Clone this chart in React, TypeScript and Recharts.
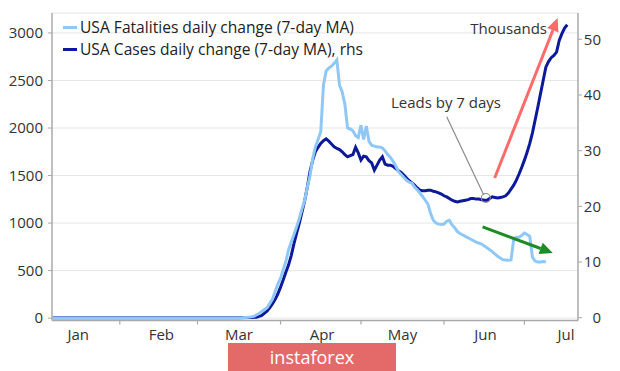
import { LineChart, Line, XAxis, YAxis, CartesianGrid, Legend, ReferenceLine, ReferenceDot } from 'recharts';

const FONT = '"Open Sans", sans-serif';
const AXIS = '#a8a8a8';
const TEXT = '#333';
const LIGHT = '#8fc8f6';
const DARK = '#0c1a9a';

// day index: 0 = Jan 1, 2020
const monthStarts = [31, 60, 91, 121, 152, 182];
const monthMids = [15.5, 46.5, 75.5, 106.5, 136.5, 167.5, 197.5];
const monthLabels = ['Jan', 'Feb', 'Mar', 'Apr', 'May', 'Jun', 'Jul'];
const leftTicks = [0, 500, 1000, 1500, 2000, 2500, 3000];
const rightTicks = [0, 10, 20, 30, 40, 50];

const seriesNames = ['USA Fatalities daily change (7-day MA)', 'USA Cases daily change (7-day MA), rhs'];

const fatalityDays = [
  6, 20, 40, 60, 72, 76, 79, 81, 83, 85,
  86, 88, 90, 91, 92, 93, 94, 95, 96, 97,
  98, 99, 100, 101, 102, 103, 104, 105, 106, 107,
  108, 109, 110, 111, 112, 113, 114, 115, 116, 117,
  118, 119, 120, 121, 122, 123, 124, 125, 126, 127,
  128, 129, 130, 131, 132, 133, 134, 135, 136, 137,
  138, 139, 140, 141, 142, 143, 144, 145, 146, 147,
  148, 149, 150, 151, 152, 153, 154, 155, 156, 157,
  158, 159, 160, 162, 164, 166, 168, 170, 172, 174,
  176, 177, 178, 179, 180, 181, 182, 183, 184, 185,
  186, 187, 188, 189, 190,
];
const fatalities = [
  0, 0, 0, 0, 0, 2, 8, 18, 48, 90,
  110, 200, 360, 420, 510, 600, 720, 800, 880, 960,
  1050, 1150, 1240, 1380, 1500, 1680, 1800, 1880, 1960, 2450,
  2600, 2630, 2650, 2680, 2716, 2450, 2380, 2250, 2000, 1990,
  1970, 1920, 1900, 2030, 1880, 2020, 1860, 1820, 1810, 1800,
  1800, 1790, 1760, 1720, 1690, 1650, 1600, 1540, 1510, 1480,
  1450, 1430, 1420, 1380, 1350, 1316, 1280, 1240, 1200, 1100,
  1030, 1000, 990, 985, 990, 1020, 1030, 980, 950, 910,
  890, 875, 860, 830, 800, 780, 740, 700, 650, 615,
  610, 612, 830, 850, 850, 870, 895, 880, 860, 640,
  600, 590, 590, 595, 590,
];

const caseDays = [
  6, 20, 40, 60, 75, 80, 82, 84, 86, 87,
  88, 89, 90, 91, 92, 93, 94, 95, 96, 97,
  98, 99, 100, 101, 102, 103, 104, 105, 106, 107,
  108, 109, 110, 111, 112, 113, 114, 115, 116, 117,
  118, 119, 120, 121, 122, 123, 124, 125, 126, 127,
  128, 129, 130, 131, 132, 133, 134, 135, 136, 137,
  138, 139, 140, 141, 142, 143, 144, 145, 146, 147,
  148, 149, 150, 151, 152, 153, 154, 155, 156, 157,
  158, 159, 160, 161, 162, 163, 164, 165, 166, 167,
  168, 169, 170, 171, 172, 173, 174, 175, 176, 177,
  178, 179, 180, 181, 182, 183, 184, 185, 186, 187,
  188, 189, 190, 191, 192, 193, 194, 195, 196, 197,
  198,
];
// thousands
const cases = [
  0, 0, 0, 0, 0, 0.05, 0.1, 0.4, 1.2, 1.8,
  2.5, 3.3, 4.3, 5.5, 6.8, 8.2, 9.5, 11.2, 13.3, 15.2,
  17, 19, 21, 23.5, 26.3, 28.3, 29.8, 30.6, 31.3, 31.8,
  32.1, 31.7, 31.2, 30.7, 30.4, 30.2, 29.8, 29.3, 28.9, 29.1,
  29.3, 30.6, 29.6, 28.3, 29.0, 28.9, 28.2, 27.8, 26.5, 27.4,
  28.3, 28.9, 27.6, 27.4, 27.4, 27.2, 26.8, 26.4, 26.1, 25.6,
  25.1, 24.6, 24.2, 23.8, 23.3, 22.9, 22.8, 22.8, 22.9, 22.9,
  22.7, 22.6, 22.4, 22.2, 21.9, 21.7, 21.4, 21.1, 20.9, 20.8,
  20.9, 21.0, 21.1, 21.2, 21.4, 21.4, 21.3, 21.3, 21.2, 21.1,
  21.1, 21.4, 21.7, 21.6, 21.5, 21.6, 21.7, 21.9, 22.4, 23.1,
  23.8, 24.7, 25.8, 27, 28.3, 29.7, 31.3, 33.2, 35.5, 37.8,
  40.2, 42.6, 45, 46, 46.7, 47.1, 47.7, 49.8, 51, 52,
  52.6,
];

const fatalityData = fatalityDays.map((day, i) => ({ day, v: fatalities[i] }));
const caseData = caseDays.map((day, i) => ({ day, v: cases[i] }));

// annotations, in data units (day, value)
const redArrow = [{ x: 170.9, y: 25.1 }, { x: 194.4, y: 53.8 }];
const greenArrow = [{ x: 166.4, y: 960 }, { x: 192.6, y: 685 }];
const leadLine = [{ x: 153, y: 36.1 }, { x: 166.8, y: 22.1 }];
const leadDot = { x: 167.6, y: 21.5 };

const arrowShape = (color: string) => (props: any) => {
  const { x1, y1, x2, y2 } = props;
  const a = Math.atan2(y2 - y1, x2 - x1);
  const len = 13;
  const half = 6;
  const bx = x2 - len * Math.cos(a);
  const by = y2 - len * Math.sin(a);
  const p1 = `${bx + half * Math.sin(a)},${by - half * Math.cos(a)}`;
  const p2 = `${bx - half * Math.sin(a)},${by + half * Math.cos(a)}`;
  return (
    <g>
      <line x1={x1} y1={y1} x2={bx} y2={by} stroke={color} strokeWidth={3} />
      <polygon points={`${x2},${y2} ${p1} ${p2}`} fill={color} />
    </g>
  );
};

// month boundaries get a tick mark, mid-months get the label
const MonthTick = (props: any) => {
  const { x, y, payload } = props;
  const i = monthMids.indexOf(payload.value);
  if (i < 0) return <line x1={x} x2={x} y1={y} y2={y + 4} stroke={AXIS} strokeWidth={1.2} />;
  return (
    <text x={x} y={y + 9} dy="0.71em" textAnchor="middle" fontSize={15} fill={TEXT}>
      {monthLabels[i]}
    </text>
  );
};

const RightTick = (props: any) => {
  const { x, y, payload } = props;
  return (
    <text x={x + 17} y={y} dy="0.355em" textAnchor="end" fontSize={15} fill={TEXT}>
      {payload.value}
    </text>
  );
};

const renderLegend = () => (
  <div style={{ fontFamily: FONT }}>
    {seriesNames.map((name, i) => (
      <div key={name} style={{ display: 'flex', alignItems: 'center', height: 22 }}>
        <span style={{ display: 'inline-block', width: 14, height: 3, background: i === 0 ? LIGHT : DARK, marginRight: 3 }} />
        <span style={{ fontSize: 15.6, color: '#222', whiteSpace: 'nowrap' }}>{name}</span>
      </div>
    ))}
  </div>
);

const xTicks = [...monthMids, ...monthStarts].sort((a, b) => a - b);

export default function App() {
  return (
    <div style={{ position: 'absolute', left: 0, top: 0, width: 620, height: 371, background: '#fff', fontFamily: FONT, overflow: 'hidden' }}>
      <LineChart width={620} height={371} margin={{ top: 13, right: 0, bottom: 0, left: 0 }}>
        <CartesianGrid vertical={false} stroke="#e6e6e6" xAxisId="t" yAxisId="l" />
        <XAxis
          xAxisId="t"
          type="number"
          dataKey="day"
          domain={[5.7, 202]}
          allowDataOverflow
          ticks={xTicks}
          interval={0}
          tickSize={0}
          tickMargin={0}
          tickLine={false}
          height={50.5}
          axisLine={{ stroke: AXIS, strokeWidth: 1.5 }}
          tick={<MonthTick />}
        />
        <YAxis
          yAxisId="l"
          width={52}
          domain={[-25, 3210]}
          allowDataOverflow
          ticks={leftTicks}
          interval={0}
          tickSize={4}
          tickMargin={5}
          axisLine={{ stroke: AXIS, strokeWidth: 1.5 }}
          tickLine={{ stroke: AXIS }}
          tick={{ fontSize: 15, fill: TEXT }}
        />
        <YAxis
          yAxisId="r"
          orientation="right"
          width={42}
          domain={[-0.5, 54.72]}
          allowDataOverflow
          ticks={rightTicks}
          interval={0}
          tickSize={4}
          axisLine={{ stroke: AXIS, strokeWidth: 1.5 }}
          tickLine={{ stroke: AXIS }}
          tick={<RightTick />}
        />
        <Legend
          layout="vertical"
          align="center"
          verticalAlign="middle"
          wrapperStyle={{ top: 16, left: 63, width: 'auto' }}
          content={renderLegend}
        />
        <Line
          xAxisId="t"
          yAxisId="r"
          data={caseData}
          dataKey="v"
          name={seriesNames[1]}
          type="linear"
          stroke={DARK}
          strokeWidth={3}
          dot={false}
          isAnimationActive={false}
        />
        <Line
          xAxisId="t"
          yAxisId="l"
          data={fatalityData}
          dataKey="v"
          name={seriesNames[0]}
          type="linear"
          stroke={LIGHT}
          strokeWidth={3}
          dot={false}
          isAnimationActive={false}
        />
        <ReferenceLine xAxisId="t" yAxisId="l" segment={greenArrow} shape={arrowShape('#1f8a26')} />
        <ReferenceLine xAxisId="t" yAxisId="r" segment={redArrow} shape={arrowShape('#ff6a6a')} />
        <ReferenceLine xAxisId="t" yAxisId="r" segment={leadLine} stroke="#8a8a8a" strokeWidth={1.2} />
        <ReferenceDot xAxisId="t" yAxisId="r" x={leadDot.x} y={leadDot.y} r={4.5} fill="none" stroke="#8a8a8a" strokeWidth={1.2} />
      </LineChart>
      <div style={{ position: 'absolute', right: 73, top: 18, fontSize: 15, lineHeight: '20px', color: TEXT }}>Thousands</div>
      <div style={{ position: 'absolute', left: 346, width: 200, top: 92, fontSize: 15, lineHeight: '20px', color: TEXT, textAlign: 'center' }}>
        Leads by 7 days
      </div>
      <div
        style={{
          position: 'absolute',
          left: 228,
          top: 343,
          width: 168,
          height: 28,
          background: '#e46a6a',
          color: '#fff',
          fontSize: 18,
          lineHeight: '28px',
          textAlign: 'center',
        }}
      >
        instaforex
      </div>
    </div>
  );
}
